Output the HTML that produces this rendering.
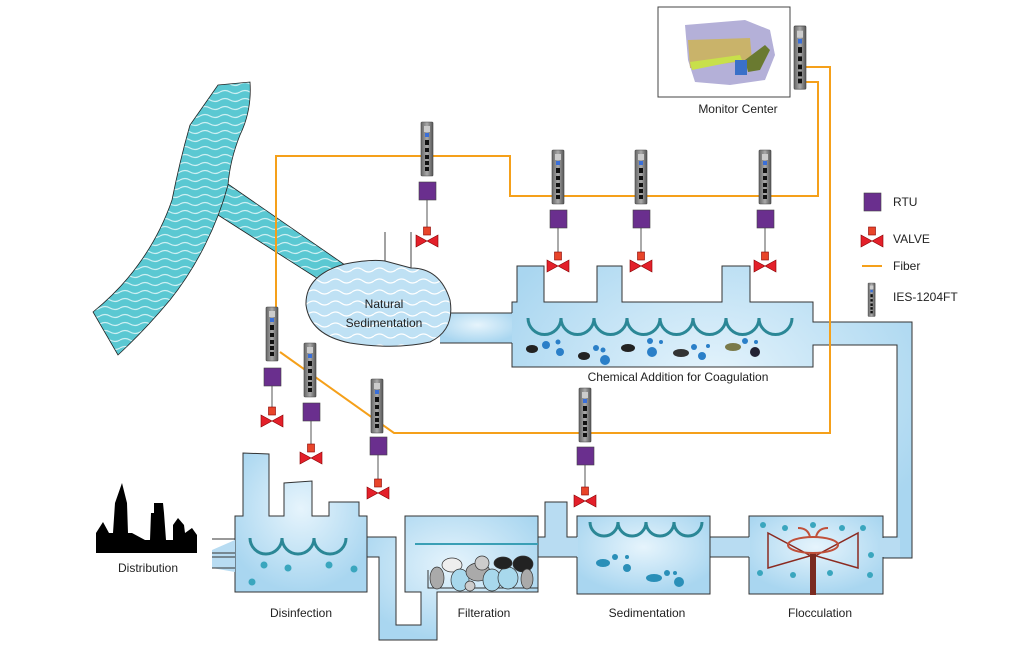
<!DOCTYPE html>
<html><head><meta charset="utf-8"><style>
html,body{margin:0;padding:0;background:#fff;}
svg{display:block;}
text{font-family:"Liberation Sans",sans-serif;fill:#222;}
</style></head><body>
<svg width="1030" height="659" viewBox="0 0 1030 659" xmlns="http://www.w3.org/2000/svg">
<defs>
<pattern id="rw" width="20" height="8" patternUnits="userSpaceOnUse">
<rect width="20" height="8" fill="#5ac8d2"/>
<path d="M0 4 Q5 1 10 4 T20 4" fill="none" stroke="#cdeff2" stroke-width="1.2"/>
</pattern>
<pattern id="bw" width="22" height="11" patternUnits="userSpaceOnUse">
<rect width="22" height="11" fill="#bfe1f4"/>
<path d="M0 6 Q5.5 2 11 6 T22 6" fill="none" stroke="#fff" stroke-width="1.2"/>
</pattern>
<radialGradient id="wg" cx="0.5" cy="0.4" r="0.6">
<stop offset="0" stop-color="#e6f4fc"/><stop offset="1" stop-color="#a9d6f0"/>
</radialGradient>
<linearGradient id="sg" x1="0" x2="1">
<stop offset="0" stop-color="#666"/><stop offset="0.5" stop-color="#aaa"/><stop offset="1" stop-color="#555"/>
</linearGradient>
<g id="sw">
<rect x="0" y="0" width="12" height="54" rx="1" fill="url(#sg)" stroke="#444" stroke-width="0.6"/>
<rect x="3" y="4" width="6" height="6" fill="#ccc"/>
<rect x="4" y="11" width="4" height="4" fill="#3a6fd8"/>
<rect x="4" y="18" width="4" height="5" fill="#111"/>
<rect x="4" y="26" width="4" height="4" fill="#111"/>
<rect x="4" y="33" width="4" height="4" fill="#111"/>
<rect x="4" y="39" width="4" height="4" fill="#111"/>
<rect x="4" y="45" width="4" height="4" fill="#111"/>
</g>
<g id="valve">
<rect x="-3.5" y="-13" width="7" height="8" fill="#e8452a" stroke="#800" stroke-width="0.6"/>
<path d="M-11 -5 L0 1 L-11 7 Z M11 -5 L0 1 L11 7 Z" fill="#e3202a" stroke="#800" stroke-width="0.6"/>
</g>
<g id="rtu"><rect x="0" y="0" width="17" height="18" fill="#6a2f8e" stroke="#444" stroke-width="0.6"/></g>
</defs>

<!-- river -->
<path d="M225 182 L345 265 L323 282 L207 208 Z" fill="url(#rw)" stroke="#222" stroke-width="0.8"/>
<path d="M218 85 L250 82 Q252 110 240 135 Q230 160 228 185 Q220 215 205 245 Q190 275 170 300 Q145 330 118 355 L93 312 Q120 290 138 265 Q160 235 172 200 Q180 160 190 125 Z" fill="url(#rw)" stroke="#222" stroke-width="0.8"/>

<!-- natural sedimentation -->
<line x1="385" y1="232" x2="385" y2="262" stroke="#444"/>
<line x1="411" y1="232" x2="411" y2="270" stroke="#444"/>
<rect x="440" y="313" width="75" height="30" fill="url(#wg)"/>
<line x1="440" y1="313" x2="512" y2="313" stroke="#333"/>
<line x1="440" y1="343" x2="512" y2="343" stroke="#333"/>
<path d="M345 264 Q370 259 385 261 L411 268 Q440 268 450 300 Q455 330 430 342 Q395 350 350 343 Q310 335 306 305 Q305 275 345 264 Z" fill="url(#bw)" stroke="#333" stroke-width="1"/>
<text x="384" y="308" font-size="12" text-anchor="middle">Natural</text>
<text x="384" y="327" font-size="12" text-anchor="middle">Sedimentation</text>

<!-- chem tank + right pipe -->
<path d="M512 313 L512 302 L517 302 L517 266 L544 266 L544 302 L597 302 L597 266 L622 266 L622 302 L722 302 L722 266 L750 266 L750 302 L813 302 L813 322 L912 322 L912 558 L883 558 L883 537 L897 537 L897 345 L813 345 L813 367 L512 367 L512 343" fill="url(#wg)" stroke="#333" stroke-width="1"/>
<path d="M528 318 a11 11 0 0 0 33 0 a11 11 0 0 0 33 0 a11 11 0 0 0 33 0 a11 11 0 0 0 33 0 a11 11 0 0 0 33 0 a11 11 0 0 0 33 0 a11 11 0 0 0 33 0 a11 11 0 0 0 33 0" fill="none" stroke="#2b8796" stroke-width="3"/>
<g fill="#2a7fc8">
<ellipse cx="532" cy="349" rx="6" ry="4" fill="#222"/><circle cx="546" cy="345" r="4"/><circle cx="558" cy="342" r="2.5"/><circle cx="560" cy="352" r="4"/>
<ellipse cx="584" cy="356" rx="6" ry="4" fill="#222"/><circle cx="596" cy="348" r="3"/><circle cx="603" cy="350" r="2.5"/><circle cx="605" cy="360" r="5"/>
<ellipse cx="628" cy="348" rx="7" ry="4" fill="#222"/><circle cx="652" cy="352" r="5"/><circle cx="650" cy="341" r="3"/><circle cx="661" cy="342" r="2"/>
<ellipse cx="681" cy="353" rx="8" ry="4" fill="#333"/><circle cx="694" cy="347" r="3"/><circle cx="708" cy="346" r="2"/><circle cx="702" cy="356" r="4"/>
<ellipse cx="733" cy="347" rx="8" ry="4" fill="#7a7a4a"/><circle cx="745" cy="341" r="3"/><circle cx="756" cy="342" r="2"/><circle cx="755" cy="352" r="5" fill="#223"/>
</g>
<text x="678" y="381" font-size="12" text-anchor="middle">Chemical Addition for Coagulation</text>

<!-- flocculation -->
<rect x="749" y="516" width="134" height="78" fill="url(#wg)" stroke="#333"/>
<rect x="880" y="538" width="20" height="19" fill="#b8dcf2"/>
<g fill="#3aa6be">
<circle cx="763" cy="525" r="3"/><circle cx="785" cy="528" r="3"/><circle cx="813" cy="525" r="3"/><circle cx="842" cy="528" r="3"/><circle cx="863" cy="528" r="3"/>
<circle cx="760" cy="573" r="3"/><circle cx="793" cy="575" r="3"/><circle cx="830" cy="573" r="3"/><circle cx="870" cy="575" r="3"/><circle cx="871" cy="555" r="3"/>
</g>
<path d="M768 533 L813 557 L858 533 L858 568 L813 555 L768 568 Z" fill="none" stroke="#8b2a20" stroke-width="1.5"/>
<rect x="810" y="553" width="6" height="42" fill="#7a2a20"/>
<ellipse cx="813" cy="545" rx="25" ry="8" fill="none" stroke="#c0503a" stroke-width="2"/>
<path d="M798 528 Q808 528 810 537 M828 528 Q818 528 816 537" fill="none" stroke="#c0503a" stroke-width="2"/>

<!-- sedimentation -->
<rect x="708" y="537" width="42" height="20" fill="#b8dcf2"/>
<line x1="710" y1="537" x2="749" y2="537" stroke="#333"/><line x1="710" y1="557" x2="749" y2="557" stroke="#333"/>
<rect x="577" y="516" width="133" height="78" fill="url(#wg)" stroke="#333"/>
<path d="M590 522 a10 10 0 0 0 28 0 a10 10 0 0 0 28 0 a10 10 0 0 0 28 0 a10 10 0 0 0 28 0" fill="none" stroke="#2b8796" stroke-width="3"/>
<g fill="#2a8fb8"><ellipse cx="603" cy="563" rx="7" ry="4"/><circle cx="615" cy="557" r="3"/><circle cx="627" cy="557" r="2"/><circle cx="627" cy="568" r="4"/><ellipse cx="654" cy="578" rx="8" ry="4"/><circle cx="667" cy="573" r="3"/><circle cx="675" cy="573" r="2"/><circle cx="679" cy="582" r="5"/></g>

<!-- filtration -->
<rect x="538" y="537" width="40" height="20" fill="#b8dcf2"/>
<path d="M538 537 L545 537 L545 502 L567 502 L567 537 L577 537 M538 557 L577 557" fill="#b8dcf2" stroke="#333"/>
<path d="M405 516 L538 516 L538 592 L437 592 L437 640 L379 640 L379 557 L367 557 L367 537 L396 537 L396 625 L421 625 L421 592 L405 592 Z" fill="url(#wg)" stroke="#333"/>
<line x1="415" y1="544" x2="538" y2="544" stroke="#3a9fb5" stroke-width="2"/>
<path d="M428 570 L428 588 L538 588" fill="none" stroke="#333"/>
<g stroke="#333" stroke-width="0.7">
<ellipse cx="437" cy="578" rx="7" ry="11" fill="#aaa"/><ellipse cx="452" cy="565" rx="10" ry="7" fill="#eee"/><ellipse cx="460" cy="580" rx="9" ry="11" fill="#a8d8ec"/>
<ellipse cx="478" cy="572" rx="12" ry="9" fill="#aaa"/><ellipse cx="482" cy="563" rx="7" ry="7" fill="#ccc"/><ellipse cx="470" cy="586" rx="5" ry="5" fill="#ccc"/>
<ellipse cx="492" cy="580" rx="9" ry="11" fill="#a8d8ec"/><ellipse cx="508" cy="578" rx="10" ry="11" fill="#a8d8ec"/><ellipse cx="503" cy="563" rx="9" ry="6" fill="#222"/>
<ellipse cx="523" cy="564" rx="10" ry="8" fill="#222"/><ellipse cx="527" cy="579" rx="6" ry="10" fill="#aaa"/>
</g>

<!-- disinfection -->
<path d="M235 516 L243 516 L243 453 L269 454 L269 516 L284 516 L284 483 L312 481 L312 516 L329 516 L329 502 L359 502 L359 516 L367 516 L367 592 L235 592 Z" fill="url(#wg)" stroke="#333"/>
<path d="M212 550 L235 540 L235 572 L212 568 Z" fill="#b8dcf2"/>
<g stroke="#333"><line x1="212" y1="539" x2="235" y2="539"/><line x1="212" y1="553" x2="235" y2="553"/><line x1="212" y1="557" x2="235" y2="557"/><line x1="212" y1="568" x2="235" y2="568"/></g>
<path d="M250 538 a12 12 0 0 0 32 0 a12 12 0 0 0 32 0 a12 12 0 0 0 32 0" fill="none" stroke="#2b8796" stroke-width="3"/>
<g fill="#3aa6be"><circle cx="264" cy="565" r="3.5"/><circle cx="288" cy="568" r="3.5"/><circle cx="329" cy="565" r="3.5"/><circle cx="354" cy="569" r="3.5"/><circle cx="252" cy="582" r="3.5"/></g>

<!-- city -->
<path d="M96 553 L96 533 L103 522 L109 533 L113 533 L115 503 L122 483 L127 503 L128 533 L132 533 L145 540 L150 540 L151 513 L154 513 L154 503 L163 503 L164 513 L166 540 L173 540 L173 525 L178 518 L184 525 L185 533 L192 528 L197 535 L197 553 Z" fill="#000"/>

<!-- fiber -->
<g fill="none" stroke="#f5a01a" stroke-width="2">
<path d="M276 340 L276 156 L510 156 L510 196 L818 196 L818 82 L805 82"/>
<path d="M805 67 L830 67 L830 433 L394 433 L280 352"/>
</g>

<!-- switches, rtus, valves -->
<g stroke="#555" stroke-width="1">
<line x1="427" y1="200" x2="427" y2="230"/><line x1="558" y1="228" x2="558" y2="255"/><line x1="641" y1="228" x2="641" y2="255"/><line x1="765" y1="228" x2="765" y2="255"/>
<line x1="272" y1="386" x2="272" y2="410"/><line x1="311" y1="421" x2="311" y2="447"/><line x1="378" y1="455" x2="378" y2="482"/><line x1="585" y1="465" x2="585" y2="490"/>
</g>
<use href="#sw" x="421" y="122"/><use href="#rtu" x="419" y="182"/><use href="#valve" x="427" y="240"/>
<use href="#sw" x="552" y="150"/><use href="#rtu" x="550" y="210"/><use href="#valve" x="558" y="265"/>
<use href="#sw" x="635" y="150"/><use href="#rtu" x="633" y="210"/><use href="#valve" x="641" y="265"/>
<use href="#sw" x="759" y="150"/><use href="#rtu" x="757" y="210"/><use href="#valve" x="765" y="265"/>
<use href="#sw" x="266" y="307"/><use href="#rtu" x="264" y="368"/><use href="#valve" x="272" y="420"/>
<use href="#sw" x="304" y="343"/><use href="#rtu" x="303" y="403"/><use href="#valve" x="311" y="457"/>
<use href="#sw" x="371" y="379"/><use href="#rtu" x="370" y="437"/><use href="#valve" x="378" y="492"/>
<use href="#sw" x="579" y="388"/><use href="#rtu" x="577" y="447"/><use href="#valve" x="585" y="500"/>

<!-- monitor center -->
<rect x="658" y="7" width="132" height="90" fill="#fff" stroke="#444"/>
<path d="M685 25 L745 20 L770 30 L775 55 L765 80 L730 85 L695 82 L688 60 Z" fill="#b4b0d8"/>
<path d="M688 40 L750 38 L752 60 L690 68 Z" fill="#c9b36a"/>
<path d="M690 62 L740 55 L742 60 L692 70 Z" fill="#c8e04a"/>
<path d="M745 60 L765 45 L770 50 L760 70 L748 72 Z" fill="#6a7a30"/>
<rect x="735" y="60" width="12" height="15" fill="#3a70c8"/>
<use href="#sw" x="794" y="26" transform="translate(794 26) scale(1 1.17) translate(-794 -26)"/>
<text x="738" y="113" font-size="12" text-anchor="middle">Monitor Center</text>

<!-- legend -->
<use href="#rtu" x="864" y="193"/>
<text x="893" y="206" font-size="12">RTU</text>
<use href="#valve" x="872" y="240"/>
<text x="893" y="243" font-size="12">VALVE</text>
<line x1="862" y1="266" x2="882" y2="266" stroke="#f5a01a" stroke-width="2"/>
<text x="893" y="270" font-size="12">Fiber</text>
<use href="#sw" x="868" y="283" transform="translate(868 283) scale(0.6 0.62) translate(-868 -283)"/>
<text x="893" y="301" font-size="12">IES-1204FT</text>

<!-- labels -->
<text x="148" y="572" font-size="12" text-anchor="middle">Distribution</text>
<text x="301" y="617" font-size="12" text-anchor="middle">Disinfection</text>
<text x="484" y="617" font-size="12" text-anchor="middle">Filteration</text>
<text x="647" y="617" font-size="12" text-anchor="middle">Sedimentation</text>
<text x="820" y="617" font-size="12" text-anchor="middle">Flocculation</text>
</svg>
</body></html>
